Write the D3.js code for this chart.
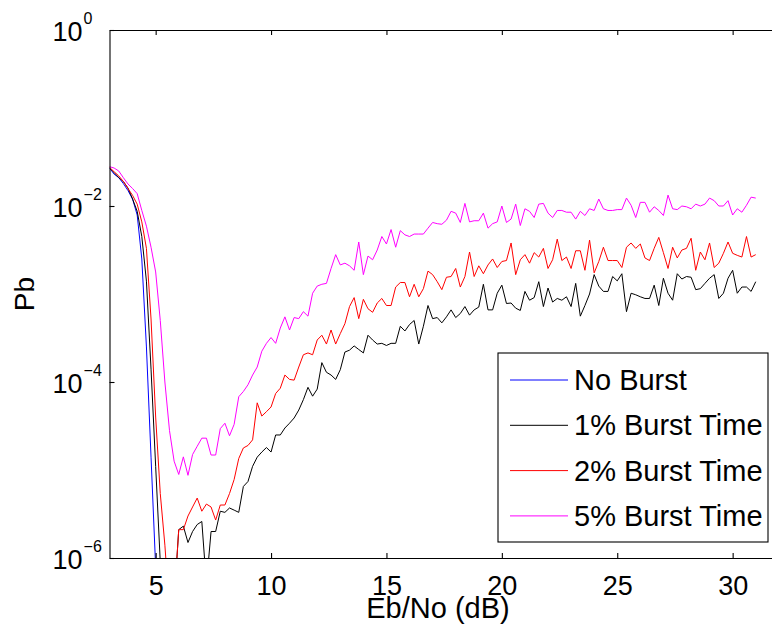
<!DOCTYPE html>
<html lang="en">
<head>
<meta charset="utf-8">
<title>Pb vs Eb/No</title>
<script src="https://cdnjs.cloudflare.com/ajax/libs/d3/7.8.5/d3.min.js"></script>
<style>
	body { margin: 0; background: #fff; }
	text { font-family: "Liberation Sans", Arial, Helvetica, sans-serif; fill: #000; }
	.axis path, .axis line { stroke: #000; stroke-width: 1.1; }
</style>
</head>
<body>
<div id="chart"></div>
<script>

// Eb/No sample points (dB)
var ebno = [
	3.0, 3.2, 3.4, 3.6, 3.8, 4.0, 4.2, 4.4, 4.6, 4.8,
	5.0, 5.2, 5.4, 5.6, 5.8, 6.0, 6.2, 6.4, 6.6, 6.8,
	7.0, 7.2, 7.4, 7.6, 7.8, 8.0, 8.2, 8.4, 8.6, 8.8,
	9.0, 9.2, 9.4, 9.6, 9.8, 10.0, 10.2, 10.4, 10.6, 10.8,
	11.0, 11.2, 11.4, 11.6, 11.8, 12.0, 12.2, 12.4, 12.6, 12.8,
	13.0, 13.2, 13.4, 13.6, 13.8, 14.0, 14.2, 14.4, 14.6, 14.8,
	15.0, 15.2, 15.4, 15.6, 15.8, 16.0, 16.2, 16.4, 16.6, 16.8,
	17.0, 17.2, 17.4, 17.6, 17.8, 18.0, 18.2, 18.4, 18.6, 18.8,
	19.0, 19.2, 19.4, 19.6, 19.8, 20.0, 20.2, 20.4, 20.6, 20.8,
	21.0, 21.2, 21.4, 21.6, 21.8, 22.0, 22.2, 22.4, 22.6, 22.8,
	23.0, 23.2, 23.4, 23.6, 23.8, 24.0, 24.2, 24.4, 24.6, 24.8,
	25.0, 25.2, 25.4, 25.6, 25.8, 26.0, 26.2, 26.4, 26.6, 26.8,
	27.0, 27.2, 27.4, 27.6, 27.8, 28.0, 28.2, 28.4, 28.6, 28.8,
	29.0, 29.2, 29.4, 29.6, 29.8, 30.0, 30.2, 30.4, 30.6, 30.8,
	31.0
];

// Pb, no burst (zero past 5 dB -> not drawn on log axis)
var noBurst = [
	2.7e-2, 2.3e-2, 2.1e-2, 1.8e-2, 1.5e-2, 1.2e-2, 7.9e-3, 2.5e-3, 2.5e-4, 1.4e-5,
	7.9e-7, 0, 0
];

// Pb, 1% burst time
var burst1 = [
	2.7e-2, 2.4e-2, 2.1e-2, 1.9e-2, 1.6e-2, 1.2e-2, 8.7e-3, 4.5e-3, 1.4e-3, 1.4e-4,
	1.1e-5, 9e-7, 0, 0, 3.2e-7, 2.1e-6, 2.3e-6, 1.5e-6, 2.0e-6, 2.4e-6,
	2.6e-6, 5e-7, 2.0e-6, 2.0e-6, 3.4e-6, 3.3e-6, 3.7e-6, 3.5e-6, 3.3e-6, 6.5e-6,
	7.4e-6, 1.1e-5, 1.4e-5, 1.6e-5, 1.8e-5, 1.6e-5, 2.5e-5, 2.5e-5, 3.0e-5, 3.4e-5,
	3.9e-5, 4.8e-5, 6.3e-5, 8.7e-5, 6.9e-5, 8.3e-5, 1.66e-4, 1.29e-4, 1.2e-4, 1.07e-4,
	1.38e-4, 2.19e-4, 2.3e-4, 2.57e-4, 2.34e-4, 2.14e-4, 3.4e-4, 3.0e-4, 2.7e-4, 2.75e-4,
	2.6e-4, 2.75e-4, 2.75e-4, 4.3e-4, 3.8e-4, 4.5e-4, 5.0e-4, 2.7e-4, 4.3e-4, 7.4e-4,
	5.25e-4, 5.4e-4, 4.7e-4, 5.5e-4, 6.6e-4, 5.4e-4, 6.0e-4, 7.2e-4, 5.75e-4, 6.6e-4,
	7.1e-4, 1.29e-3, 6.6e-4, 6.6e-4, 1.02e-3, 1.26e-3, 7.8e-4, 7.9e-4, 6.9e-4, 6.5e-4,
	1.07e-3, 8.5e-4, 9.1e-4, 1.38e-3, 7.2e-4, 1.17e-3, 8.1e-4, 8.9e-4, 8.5e-4, 9.3e-4,
	7.2e-4, 1.32e-3, 5.6e-4, 7.4e-4, 1.0e-3, 1.66e-3, 1.23e-3, 1.07e-3, 1.07e-3, 1.58e-3,
	1.41e-3, 1.7e-3, 6.3e-4, 1.02e-3, 9.8e-4, 9.3e-4, 8.9e-4, 8.9e-4, 1.26e-3, 7.4e-4,
	1.51e-3, 1.02e-3, 8.5e-4, 1.7e-3, 1.48e-3, 1.58e-3, 1.55e-3, 1.12e-3, 1.15e-3, 1.32e-3,
	1.51e-3, 1.66e-3, 8.9e-4, 1.02e-3, 1.51e-3, 1.86e-3, 1.02e-3, 1.2e-3, 1.2e-3, 1.07e-3,
	1.38e-3
];

// Pb, 2% burst time
var burst2 = [
	2.75e-2, 2.45e-2, 2.2e-2, 1.9e-2, 1.58e-2, 1.32e-2, 1.05e-2, 6.6e-3, 3.3e-3, 5.2e-4,
	4.0e-5, 5.4e-6, 1.4e-6, 2.5e-7, 3.2e-7, 2.1e-6, 2.1e-6, 3.0e-6, 3.8e-6, 4.8e-6,
	3.4e-6, 4.1e-6, 3.8e-6, 2.7e-6, 4.0e-6, 4.0e-6, 5.4e-6, 7.8e-6, 1.35e-5, 1.78e-5,
	1.9e-5, 2.2e-5, 5.8e-5, 4.1e-5, 4.6e-5, 5.2e-5, 7.4e-5, 8.5e-5, 1.2e-4, 1.07e-4,
	1.05e-4, 1.48e-4, 2.04e-4, 2.14e-4, 2.04e-4, 3.0e-4, 3.4e-4, 2.7e-4, 3.9e-4, 2.7e-4,
	3.55e-4, 4.6e-4, 7.2e-4, 9.1e-4, 5.25e-4, 8.7e-4, 6.8e-4, 6.2e-4, 7.9e-4, 8.9e-4,
	7.4e-4, 7.4e-4, 1.2e-3, 1.35e-3, 1.35e-3, 9.3e-4, 1.29e-3, 9.3e-4, 1.15e-3, 1.82e-3,
	1.66e-3, 1.38e-3, 1.12e-3, 1.55e-3, 1.58e-3, 1.95e-3, 1.2e-3, 1.58e-3, 3.0e-3, 1.58e-3,
	2.09e-3, 1.7e-3, 2.14e-3, 2.5e-3, 2.0e-3, 2.34e-3, 2.4e-3, 3.8e-3, 1.66e-3, 2.45e-3,
	2.8e-3, 2.24e-3, 2.95e-3, 2.63e-3, 3.3e-3, 1.95e-3, 2.45e-3, 4.2e-3, 2.4e-3, 2.63e-3,
	1.95e-3, 3.1e-3, 3.1e-3, 1.86e-3, 4.1e-3, 1.74e-3, 2.34e-3, 3.4e-3, 2.4e-3, 2.4e-3,
	2.4e-3, 2.0e-3, 3.4e-3, 3.8e-3, 3.3e-3, 3.7e-3, 2.57e-3, 2.4e-3, 3.3e-3, 4.4e-3,
	2.95e-3, 1.95e-3, 3.4e-3, 2.57e-3, 3.16e-3, 3.3e-3, 4.3e-3, 1.86e-3, 3.0e-3, 2.45e-3,
	3.8e-3, 2.0e-3, 2.24e-3, 2.9e-3, 3.9e-3, 2.9e-3, 2.75e-3, 2.63e-3, 4.5e-3, 2.63e-3,
	2.8e-3
];

// Pb, 5% burst time
var burst5 = [
	2.8e-2, 2.7e-2, 2.5e-2, 2.1e-2, 1.78e-2, 1.58e-2, 1.38e-2, 8.9e-3, 5.9e-3, 3.4e-3,
	1.78e-3, 5.0e-4, 1.0e-4, 2.8e-5, 1.26e-5, 8.9e-6, 1.41e-5, 8.7e-6, 1.5e-5, 1.86e-5,
	2.3e-5, 2.3e-5, 1.48e-5, 1.48e-5, 2.95e-5, 3.4e-5, 2.45e-5, 3.3e-5, 6.8e-5, 7.8e-5,
	9.3e-5, 1.2e-4, 1.48e-4, 2.24e-4, 2.75e-4, 3.2e-4, 2.75e-4, 4.1e-4, 5.5e-4, 3.9e-4,
	5.4e-4, 5.25e-4, 6.3e-4, 5.6e-4, 1.02e-3, 1.23e-3, 1.29e-3, 1.32e-3, 1.95e-3, 2.8e-3,
	2.14e-3, 2.24e-3, 2.09e-3, 1.86e-3, 3.9e-3, 1.66e-3, 2.7e-3, 2.45e-3, 3.16e-3, 4.5e-3,
	3.7e-3, 5.4e-3, 3.4e-3, 5.25e-3, 4.7e-3, 4.5e-3, 4.8e-3, 4.8e-3, 4.8e-3, 5.6e-3,
	6.5e-3, 6.3e-3, 6.2e-3, 6.9e-3, 8.7e-3, 8.3e-3, 6.5e-3, 1.07e-2, 6.6e-3, 6.8e-3,
	6.8e-3, 8.3e-3, 5.6e-3, 6.3e-3, 6.6e-3, 1.0e-2, 6.5e-3, 7.1e-3, 1.05e-2, 6.0e-3,
	9.3e-3, 8.7e-3, 7.4e-3, 1.05e-2, 1.07e-2, 8.3e-3, 7.4e-3, 8.9e-3, 8.9e-3, 8.5e-3,
	8.5e-3, 7.1e-3, 8.7e-3, 7.8e-3, 9.3e-3, 8.9e-3, 1.2e-2, 9.3e-3, 8.9e-3, 8.9e-3,
	9.1e-3, 9.1e-3, 1.23e-2, 1.02e-2, 7.4e-3, 1.1e-2, 1.1e-2, 8.5e-3, 9.8e-3, 8.9e-3,
	7.8e-3, 1.33e-2, 9.3e-3, 9.1e-3, 1.0e-2, 9.8e-3, 9.3e-3, 1.05e-2, 1.0e-2, 1.05e-2,
	1.23e-2, 1.15e-2, 1.0e-2, 1.0e-2, 1.15e-2, 7.9e-3, 9.3e-3, 8.5e-3, 1.02e-2, 1.26e-2,
	1.23e-2
];

var seriesNames = ["No Burst", "1% Burst Time", "2% Burst Time", "5% Burst Time"];
var seriesColors = ["#0000ff", "#000000", "#ff0000", "#ff00ff"];
var xTicks = [5, 10, 15, 20, 25, 30];
var yTicks = [1, 1e-2, 1e-4, 1e-6];
var yTickExp = ["0", "\u22122", "\u22124", "\u22126"];

var w = 772,
    h = 631;
var plotL = 109.5, plotT = 30, plotB = 558, plotR = 778.8;

var svg = d3.select("#chart")
	.append("svg")
	.attr("width", w)
	.attr("height", h)
	.style("display", "block");

svg.append("rect").attr("width", w).attr("height", h).attr("fill", "#fff");

var x = d3.scaleLinear().domain([3, 32]).range([plotL, plotR]);
var y = d3.scaleLog().domain([1e-6, 1]).range([plotB, plotT]);

svg.append("defs").append("clipPath").attr("id", "plotclip")
	.append("rect")
	.attr("x", plotL).attr("y", plotT)
	.attr("width", plotR - plotL).attr("height", plotB - plotT);

// curves
var allSeries = [noBurst, burst1, burst2, burst5];
var line = d3.line()
	.defined(function(d) { return d[1] > 0; })
	.x(function(d) { return x(d[0]); })
	.y(function(d) { return y(d[1]); });

svg.append("g")
	.attr("clip-path", "url(#plotclip)")
	.selectAll("path")
	.data(allSeries)
	.enter()
	.append("path")
	.attr("fill", "none")
	.attr("stroke", function(d, i) { return seriesColors[i]; })
	.attr("stroke-width", 1)
	.attr("d", function(s) {
		return line(s.map(function(v, i) { return [ebno[i], v]; }));
	});

// axes (ticks point inward like matlab)
svg.append("g").attr("class", "axis")
	.attr("transform", "translate(0," + plotB + ")")
	.call(d3.axisBottom(x).tickValues(xTicks).tickSizeInner(-5).tickSizeOuter(0).tickPadding(0))
	.selectAll("text")
	.attr("y", 37).attr("dy", 0)
	.attr("font-size", "27px");

svg.append("g").attr("class", "axis")
	.attr("transform", "translate(0," + plotT + ")")
	.call(d3.axisTop(x).tickValues(xTicks).tickSizeInner(-5).tickSizeOuter(0).tickFormat(""));

svg.append("g").attr("class", "axis")
	.attr("transform", "translate(" + plotL + ",0)")
	.call(d3.axisLeft(y).tickValues(yTicks).tickSizeInner(-5).tickSizeOuter(0).tickFormat(""));

svg.append("g").attr("class", "axis")
	.attr("transform", "translate(" + plotR + ",0)")
	.call(d3.axisRight(y).tickValues(yTicks).tickSizeInner(-5).tickSizeOuter(0).tickFormat(""));

svg.selectAll(".axis text").attr("fill", "#000");

// y tick labels 10^k
var ylab = svg.append("g").selectAll("text")
	.data(yTicks)
	.enter()
	.append("text")
	.attr("x", plotL - 57)
	.attr("y", function(d) { return y(d) + 11; })
	.attr("font-size", "27px");
ylab.append("tspan").text("10");
ylab.append("tspan")
	.attr("dy", -17)
	.attr("dx", 1)
	.attr("font-size", "16px")
	.text(function(d, i) { return yTickExp[i]; });

// axis titles
svg.append("text")
	.attr("x", 438)
	.attr("y", 618)
	.attr("text-anchor", "middle")
	.attr("font-size", "29px")
	.text("Eb/No (dB)");

svg.append("text")
	.attr("transform", "translate(34,294) rotate(-90)")
	.attr("text-anchor", "middle")
	.attr("font-size", "28px")
	.text("Pb");

// legend
var legend = svg.append("g");
legend.append("rect")
	.attr("x", 498).attr("y", 353)
	.attr("width", 270).attr("height", 189)
	.attr("fill", "#fff").attr("stroke", "#000").attr("stroke-width", 1.1);

var rows = legend.selectAll(".row")
	.data(seriesNames)
	.enter()
	.append("g")
	.attr("class", "row")
	.attr("transform", function(d, i) { return "translate(0," + (380 + i * 45.3) + ")"; });
rows.append("line")
	.attr("x1", 510).attr("x2", 568)
	.attr("stroke", function(d, i) { return seriesColors[i]; })
	.attr("stroke-width", 1);
rows.append("text")
	.attr("x", 574).attr("y", 10)
	.attr("font-size", "29px")
	.text(function(d) { return d; });

</script>
</body>
</html>
